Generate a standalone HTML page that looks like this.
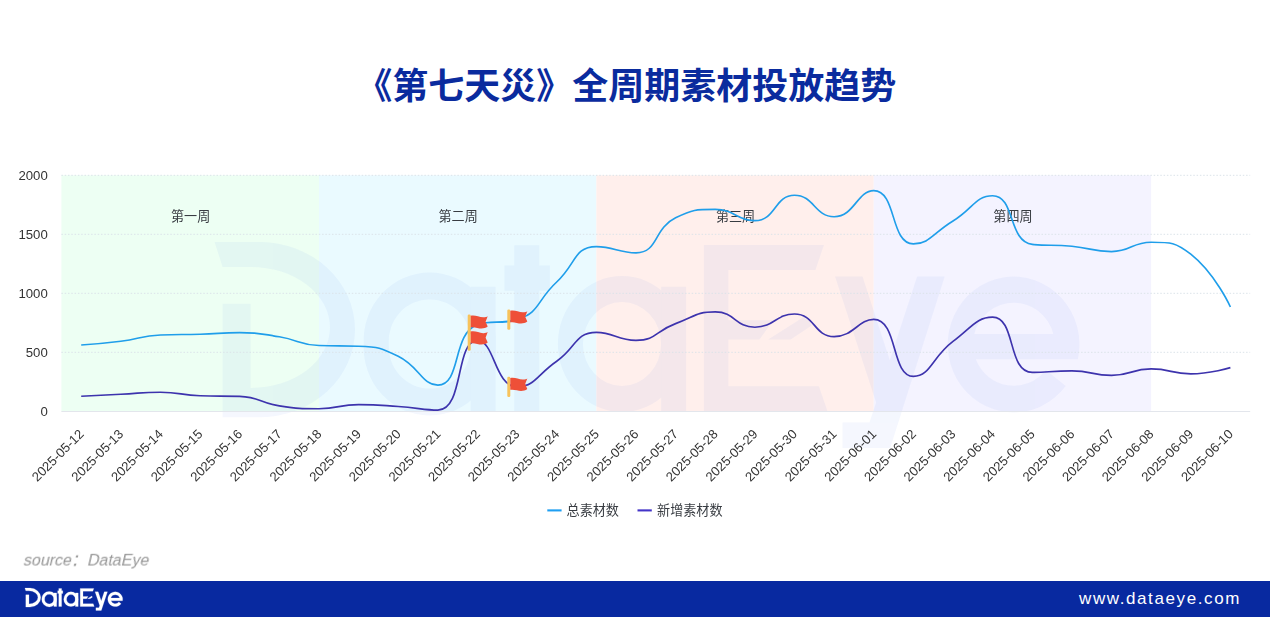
<!DOCTYPE html>
<html lang="zh"><head><meta charset="utf-8"><title>《第七天災》全周期素材投放趋势</title>
<style>
html,body{margin:0;padding:0;background:#fff;}
body{width:1270px;height:617px;overflow:hidden;position:relative;font-family:"Liberation Sans",sans-serif;}
#page{position:absolute;left:0;top:0;width:1270px;height:617px;overflow:hidden;background:#fff;}
#chart{position:absolute;left:0;top:0;display:block;}
#chart text{font-family:"Liberation Sans",sans-serif;}
#chart text.cj{font-family:"Liberation Sans","Noto Sans CJK SC",sans-serif;}
.yl{font-size:13.2px;fill:#333;text-anchor:end;}
.xl{font-size:13.1px;fill:#333;text-anchor:end;}
#footer{position:absolute;left:0;top:581px;width:1270px;height:36px;background:#0829a0;}
</style></head><body><div id="page">
<svg id="chart" width="1270" height="617" viewBox="0 0 1270 617">
<defs>
<g id="logo"><path d="M0,-97.6L26.0,-97.6A54.8,50.4 0 0 1 26.0,3.2L4.6,3.2L4.6,-62.1L20.7,-62.1L20.7,-13.6L20.8,-13.6A45.6,34.8 0 0 0 20.8,-83.2L4.6,-83.2Z"/><path fill-rule="evenodd" d="M85.8,-38.9A38.0,39.1 0 1 0 161.7,-38.9A38.0,39.1 0 1 0 85.8,-38.9ZM100.2,-38.9A23.6,24.1 0 1 1 147.3,-38.9A23.6,24.1 0 1 1 100.2,-38.9Z"/><path d="M147.3,-71.9L161.7,-71.9L161.7,0L147.3,0Z"/><path d="M172.4,-95.7L186.8,-95.7L186.8,-84L192.9,-84L192.9,-69.6L186.8,-69.6L186.8,0L172.4,0L172.4,-69.6L166.8,-69.6L166.8,-84L172.4,-84Z"/><path fill-rule="evenodd" d="M197.5,-38.9A36.9,39.1 0 1 0 271.3,-38.9A36.9,39.1 0 1 0 197.5,-38.9ZM211.9,-38.9A22.5,24.1 0 1 1 256.9,-38.9A22.5,24.1 0 1 1 211.9,-38.9Z"/><path d="M256.9,-71.9L271.3,-71.9L271.3,0L256.9,0Z"/><path d="M281.5,-95.9L350.6,-95.9L345.7,-81.5L295.6,-81.5L295.6,-52.5L321.5,-52.5L313.5,-41.5L295.6,-41.5L295.6,-14.6L347.7,-14.6L352.7,0.0L281.5,0.0ZM318.5,-41.5L340.5,-55.5L343.5,-49.5L331.5,-41.5Z"/><path d="M357.0,-77.7L372.8,-77.7L388.5,-29.5L404.2,-77.7L420.1,-77.7L388.7,21.0L361.3,21.0L361.3,6.3L376.8,6.3L380.6,-5.2Z"/><path fill-rule="evenodd" d="M496.7,-30.1A37.9,39.1 0 1 0 489.7,-14.7L478.3,-24.0A23.5,24.1 0 0 1 438.0,-30.1ZM437.1,-44.6A23.5,24.1 0 0 1 482.6,-44.6Z"/></g>
<g id="flag"><rect x="0" y="0" width="3" height="20.4" rx="1.3" fill="#f7c35c"/><path d="M3,1.3C7,0.2 11,2.4 15.5,2.9C17.4,3 19,2.5 20,1.8L17.9,7.4L20,12.2C17,14.4 13.5,14.6 9.5,13.6C7.2,13 5,12.8 3,13.1Z" fill="#ee4f38"/></g>
</defs>
<text class="cj" x="356.2" y="99" font-size="36" font-weight="bold" fill="#0a2b9e">《第七天災》全周期素材投放趋势</text>
<g style="filter:blur(0.35px)">
<rect x="61.4" y="175.3" width="257.6" height="236" fill="#edfff3"/>
<rect x="319" y="175.3" width="277.4" height="236" fill="#eafaff"/>
<rect x="596.4" y="175.3" width="277.4" height="236" fill="#ffefec"/>
<rect x="873.7" y="175.3" width="277.4" height="236" fill="#f4f3ff"/>
<g transform="translate(214.6,411.6) scale(1.738)" fill="#1550e0" opacity="0.045"><use href="#logo"/></g>
<line x1="61.4" y1="352.3" x2="1250.2" y2="352.3" stroke="#dbe3e9" stroke-width="1" stroke-dasharray="1.5 1.8"/>
<line x1="61.4" y1="293.3" x2="1250.2" y2="293.3" stroke="#dbe3e9" stroke-width="1" stroke-dasharray="1.5 1.8"/>
<line x1="61.4" y1="234.3" x2="1250.2" y2="234.3" stroke="#dbe3e9" stroke-width="1" stroke-dasharray="1.5 1.8"/>
<line x1="61.4" y1="175.3" x2="1250.2" y2="175.3" stroke="#dbe3e9" stroke-width="1" stroke-dasharray="1.5 1.8"/>
<line x1="61.4" y1="411.5" x2="1250.2" y2="411.5" stroke="#e3e6ec" stroke-width="1"/>
<text class="yl" x="47.8" y="416.2">0</text>
<text class="yl" x="47.8" y="357.2">500</text>
<text class="yl" x="47.8" y="298.2">1000</text>
<text class="yl" x="47.8" y="239.2">1500</text>
<text class="yl" x="47.8" y="180.2">2000</text>
<text class="xl" transform="translate(81.3,431.5) rotate(-45)" x="0" y="4.7">2025-05-12</text>
<text class="xl" transform="translate(120.9,431.5) rotate(-45)" x="0" y="4.7">2025-05-13</text>
<text class="xl" transform="translate(160.6,431.5) rotate(-45)" x="0" y="4.7">2025-05-14</text>
<text class="xl" transform="translate(200.2,431.5) rotate(-45)" x="0" y="4.7">2025-05-15</text>
<text class="xl" transform="translate(239.8,431.5) rotate(-45)" x="0" y="4.7">2025-05-16</text>
<text class="xl" transform="translate(279.4,431.5) rotate(-45)" x="0" y="4.7">2025-05-17</text>
<text class="xl" transform="translate(319.1,431.5) rotate(-45)" x="0" y="4.7">2025-05-18</text>
<text class="xl" transform="translate(358.7,431.5) rotate(-45)" x="0" y="4.7">2025-05-19</text>
<text class="xl" transform="translate(398.3,431.5) rotate(-45)" x="0" y="4.7">2025-05-20</text>
<text class="xl" transform="translate(438,431.5) rotate(-45)" x="0" y="4.7">2025-05-21</text>
<text class="xl" transform="translate(477.6,431.5) rotate(-45)" x="0" y="4.7">2025-05-22</text>
<text class="xl" transform="translate(517.2,431.5) rotate(-45)" x="0" y="4.7">2025-05-23</text>
<text class="xl" transform="translate(556.8,431.5) rotate(-45)" x="0" y="4.7">2025-05-24</text>
<text class="xl" transform="translate(596.5,431.5) rotate(-45)" x="0" y="4.7">2025-05-25</text>
<text class="xl" transform="translate(636.1,431.5) rotate(-45)" x="0" y="4.7">2025-05-26</text>
<text class="xl" transform="translate(675.7,431.5) rotate(-45)" x="0" y="4.7">2025-05-27</text>
<text class="xl" transform="translate(715.3,431.5) rotate(-45)" x="0" y="4.7">2025-05-28</text>
<text class="xl" transform="translate(755,431.5) rotate(-45)" x="0" y="4.7">2025-05-29</text>
<text class="xl" transform="translate(794.6,431.5) rotate(-45)" x="0" y="4.7">2025-05-30</text>
<text class="xl" transform="translate(834.2,431.5) rotate(-45)" x="0" y="4.7">2025-05-31</text>
<text class="xl" transform="translate(873.8,431.5) rotate(-45)" x="0" y="4.7">2025-06-01</text>
<text class="xl" transform="translate(913.5,431.5) rotate(-45)" x="0" y="4.7">2025-06-02</text>
<text class="xl" transform="translate(953.1,431.5) rotate(-45)" x="0" y="4.7">2025-06-03</text>
<text class="xl" transform="translate(992.7,431.5) rotate(-45)" x="0" y="4.7">2025-06-04</text>
<text class="xl" transform="translate(1032.4,431.5) rotate(-45)" x="0" y="4.7">2025-06-05</text>
<text class="xl" transform="translate(1072,431.5) rotate(-45)" x="0" y="4.7">2025-06-06</text>
<text class="xl" transform="translate(1111.6,431.5) rotate(-45)" x="0" y="4.7">2025-06-07</text>
<text class="xl" transform="translate(1151.2,431.5) rotate(-45)" x="0" y="4.7">2025-06-08</text>
<text class="xl" transform="translate(1190.9,431.5) rotate(-45)" x="0" y="4.7">2025-06-09</text>
<text class="xl" transform="translate(1230.5,431.5) rotate(-45)" x="0" y="4.7">2025-06-10</text>
<text class="cj" x="171" y="221.3" font-size="13.1" fill="#383c42">第一周</text>
<text class="cj" x="438.5" y="221.3" font-size="13.1" fill="#383c42">第二周</text>
<text class="cj" x="715.9" y="221.3" font-size="13.1" fill="#383c42">第三周</text>
<text class="cj" x="993.3" y="221.3" font-size="13.1" fill="#383c42">第四周</text>
<path d="M81.2,345C81.2,345 101.1,343.8 120.8,341.3C140.7,338.8 140.5,335.7 160.5,335C180.2,334.2 180.3,334.8 200.1,334.2C219.9,333.7 220,332.6 239.7,332.6C259.6,332.6 259.7,333.7 279.3,336.8C299.3,340.1 298.9,344.7 319,345.5C338.6,346.2 339.1,345.5 358.6,346.2C378.7,346.9 380.2,347.5 398.2,356.3C419.8,366.9 421.9,385.1 437.9,385.1C461.5,385.1 451.9,333.5 477.5,324.6C491.6,319.6 500.4,324.6 517.1,319.6C540,312.8 536.6,300.5 556.7,282C576.3,264 573.8,246.6 596.4,246.6C613.4,246.6 618.9,252.8 636,252.8C658.5,252.8 653.2,228.7 675.6,217.8C692.8,209.4 695.6,209.4 715.2,209.4C735.2,209.4 736.4,220.6 754.9,220.6C776,220.6 774.3,195.2 794.5,195.2C813.9,195.2 814.8,216.7 834.1,216.7C854.4,216.7 857.2,190.6 873.7,190.6C896.9,190.6 889.9,243.9 913.4,243.9C929.5,243.9 933.4,232.8 953,221C973.1,208.8 975.7,195.7 992.6,195.7C1015.3,195.7 1008,241.6 1032.3,244.4C1047.6,246.2 1052.1,244.4 1071.9,246.2C1091.8,248 1091.9,251.6 1111.5,251.6C1131.5,251.6 1131.5,242.2 1151.1,242.2C1171.1,242.2 1175.5,242.2 1190.8,254.2C1215.1,273.4 1230.4,307 1230.4,307" fill="none" stroke="#1f9eea" stroke-width="1.65" stroke-linejoin="round" stroke-linecap="butt"/>
<path d="M81.2,396.2C81.2,396.2 101,395.3 120.8,394.3C140.7,393.3 140.7,392.2 160.5,392.2C180.3,392.2 180.2,395.2 200.1,395.8C219.9,396.4 220.2,395.8 239.7,396.4C259.8,397 259.3,403 279.3,405.9C298.9,408.7 299.2,408.7 319,408.7C338.8,408.7 338.7,404.6 358.6,404.6C378.4,404.6 378.4,405.1 398.2,406.5C418.1,407.9 424.7,410.1 437.9,410.1C464.3,410.1 455,340.5 477.5,340.5C494.6,340.5 494.8,386.9 517.1,386.9C534.4,386.9 537.3,374.5 556.7,361.2C576.9,347.3 574.7,332.4 596.4,332.4C614.3,332.4 616.8,340.4 636,340.4C656.4,340.4 655.4,330.9 675.6,323.6C695,316.7 695.7,311.9 715.2,311.9C735.3,311.9 734.9,327.2 754.9,327.2C774.5,327.2 775.6,314 794.5,314C815.2,314 813.8,336.6 834.1,336.6C853.4,336.6 858.5,319.4 873.7,319.4C898.2,319.4 890.9,376.4 913.4,376.4C930.5,376.4 931.9,357.2 953,341.4C971.5,327.6 976.5,317.1 992.6,317.1C1016.2,317.1 1007.2,372.4 1032.3,372.4C1046.9,372.4 1052.1,370.9 1071.9,370.9C1091.8,370.9 1091.8,375.4 1111.5,375.4C1131.4,375.4 1131.3,368.9 1151.1,368.9C1170.9,368.9 1171,373.8 1190.8,373.8C1210.6,373.8 1230.4,367.6 1230.4,367.6" fill="none" stroke="#3d33ad" stroke-width="1.65" stroke-linejoin="round" stroke-linecap="butt"/>
<use href="#flag" x="467.7" y="314.4"/>
<use href="#flag" x="467.7" y="330.3"/>
<use href="#flag" x="507.3" y="309.4"/>
<use href="#flag" x="507.3" y="376.7"/>
<line x1="547.3" y1="510.4" x2="561.6" y2="510.4" stroke="#1f9ff2" stroke-width="2.1"/>
<text class="cj" x="566.6" y="515" font-size="13.1" fill="#383c42">总素材数</text>
<line x1="637.5" y1="510.4" x2="651.8" y2="510.4" stroke="#4334c8" stroke-width="2.1"/>
<text class="cj" x="657.1" y="515" font-size="13.1" fill="#383c42">新增素材数</text>
<text class="cj" transform="translate(22.8,565.9) skewX(-13)" x="0" y="0" font-size="16" fill="#979797">source：DataEye</text>
</g>
<rect x="0" y="581" width="1270" height="36" fill="#0829a0"/>
<g transform="translate(24.9,606.5) scale(0.1965,0.1885)" fill="#fff" stroke="#fff" stroke-width="1.1" stroke-linejoin="round"><use href="#logo"/></g>
<text x="1079" y="603.7" font-size="17" fill="#fff" letter-spacing="1.6">www.dataeye.com</text>
</svg>
</div></body></html>
